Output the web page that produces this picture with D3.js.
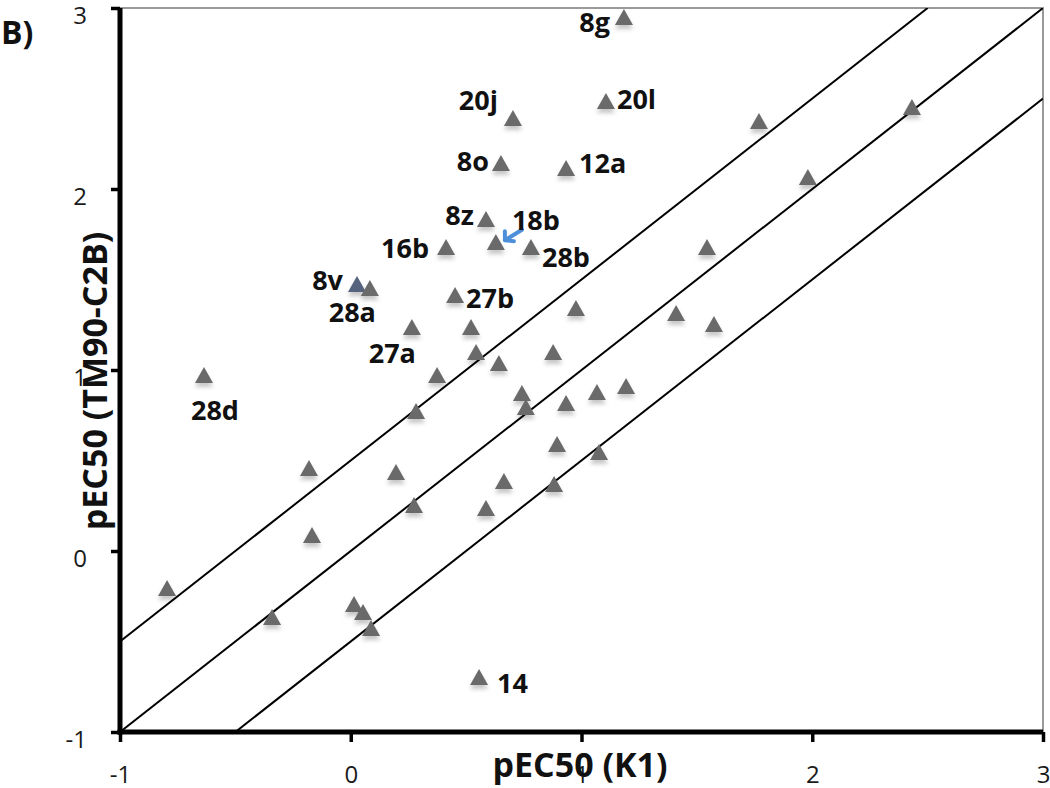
<!DOCTYPE html>
<html>
<head>
<meta charset="utf-8">
<script src="https://cdn.jsdelivr.net/npm/d3@7"></script>
<style>
    body { margin: 0; background: #fff; }
    svg { display: block; }
</style>
</head>
<body>
<div id="chart"></div>
<script>
// data: pEC50 on K1 (x) vs TM90-C2B (y)
const names = [
    "8g", "20l", "20j", "8o", "12a", "8z", "16b", "18b", "28b", "8v",
    "28a", "27b", "27a", "", "", "", "28d", "", "", "",
    "", "", "", "", "", "", "", "", "", "",
    "", "", "", "", "", "", "", "", "", "",
    "", "", "", "", "", "", "14"
];
const k1 = [
    1.184, 1.106, 0.703, 0.651, 0.933, 0.586, 0.413, 0.629, 0.781, 0.027,
    0.083, 0.452, 0.265, 0.521, 0.543, 0.374, -0.636, 0.283, -0.181, 0.196,
    0.274, -0.168, 0.586, 0.976, 0.642, 0.877, 0.742, 0.759, 0.933, 1.067,
    1.193, 1.410, 1.574, 1.544, 0.894, 1.076, 0.664, 0.881, 1.769, 2.432,
    1.981, -0.796, -0.341, 0.014, 0.053, 0.088, 0.556
];
const tm90 = [
    2.950, 2.486, 2.392, 2.144, 2.116, 1.834, 1.680, 1.707, 1.680, 1.475,
    1.453, 1.414, 1.238, 1.238, 1.099, 0.972, 0.972, 0.773, 0.459, 0.436,
    0.254, 0.088, 0.238, 1.343, 1.039, 1.099, 0.873, 0.796, 0.818, 0.878,
    0.912, 1.315, 1.254, 1.680, 0.591, 0.547, 0.387, 0.370, 2.376, 2.453,
    2.066, -0.204, -0.365, -0.293, -0.337, -0.425, -0.696
];
const refOffsets = [0.5, 0, -0.5];   // y = x + offset
const tickValues = [-1, 0, 1, 2, 3];
// the little blue arrow near 18b (from, to)
const arrowFrom = [0.742, 1.775];
const arrowTo = [0.668, 1.717];

const data = k1.map((v, i) => ({ x: v, y: tm90[i], name: names[i] }));

// label placement around the marker
const labelPos = {
    "8g": { anchor: "end", dx: -14, dy: 15 },
    "20l": { anchor: "start", dx: 11, dy: 8 },
    "20j": { anchor: "end", dx: -15, dy: -8 },
    "8o": { anchor: "end", dx: -12, dy: 8 },
    "12a": { anchor: "start", dx: 13, dy: 5 },
    "8z": { anchor: "end", dx: -12, dy: 6 },
    "18b": { anchor: "start", dx: 16, dy: -12 },
    "16b": { anchor: "end", dx: -17, dy: 11 },
    "28b": { anchor: "start", dx: 11, dy: 20 },
    "8v": { anchor: "end", dx: -14, dy: 6 },
    "28a": { anchor: "end", dx: 6, dy: 34 },
    "27b": { anchor: "start", dx: 11, dy: 13 },
    "27a": { anchor: "end", dx: 4, dy: 36 },
    "28d": { anchor: "start", dx: -13, dy: 45 },
    "14": { anchor: "start", dx: 18, dy: 16 },
};

const width = 1050;
const height = 788;
const marginTop = 8;
const marginRight = 7;
const marginBottom = 56;
const marginLeft = 120;

const x = d3.scaleLinear().domain([-1, 3]).range([marginLeft, width - marginRight]);
const y = d3.scaleLinear().domain([-1, 3]).range([height - marginBottom, marginTop]);

const svg = d3.select("#chart")
    .append("svg")
    .attr("width", width)
    .attr("height", height)
    .style("font-family", "'Open Sans', sans-serif");

const defs = svg.append("defs");
defs.append("clipPath")
    .attr("id", "plotClip")
    .append("rect")
    .attr("x", x(-1))
    .attr("y", y(3))
    .attr("width", x(3) - x(-1))
    .attr("height", y(-1) - y(3));

const shadow = defs.append("filter")
    .attr("id", "shadow")
    .attr("x", "-50%").attr("y", "-50%")
    .attr("width", "200%").attr("height", "200%");
shadow.append("feDropShadow")
    .attr("dx", 0)
    .attr("dy", 4)
    .attr("stdDeviation", 2)
    .attr("flood-color", "#000")
    .attr("flood-opacity", 0.22);

// top and right frame (grey)
svg.append("path")
    .attr("d", `M${x(-1)},${y(3)}H${x(3)}V${y(-1)}`)
    .attr("fill", "none")
    .attr("stroke", "#9a9a9a")
    .attr("stroke-width", 2);

// reference lines
svg.append("g")
    .attr("clip-path", "url(#plotClip)")
    .selectAll("line")
    .data(refOffsets)
    .join("line")
    .attr("x1", (d) => x(Math.max(-1, -1 - d)))
    .attr("y1", (d) => y(Math.max(-1, -1 - d) + d))
    .attr("x2", (d) => x(Math.min(3, 3 - d)))
    .attr("y2", (d) => y(Math.min(3, 3 - d) + d))
    .attr("stroke", "#000")
    .attr("stroke-width", 2);

// axes
const fmt = (d) => String(d);

const gx = svg.append("g")
    .attr("transform", `translate(0,${y(-1)})`)
    .call(d3.axisBottom(x).tickValues(tickValues).tickFormat(fmt).tickSize(10).tickSizeOuter(0).tickPadding(24));
const gy = svg.append("g")
    .attr("transform", `translate(${x(-1)},0)`)
    .call(d3.axisLeft(y).tickValues(tickValues).tickFormat(fmt).tickSize(9).tickSizeOuter(0).tickPadding(24));

for (const g of [gx, gy]) {
    g.attr("font-size", 24).attr("font-family", "'Open Sans', sans-serif");
    g.select(".domain").attr("stroke", "#000").attr("stroke-width", 5);
    g.selectAll(".tick line").attr("stroke", "#000").attr("stroke-width", 3.5);
    g.selectAll(".tick text")
        .attr("fill", "#1a1a1a")
        .style("font-size", "24px");
}
gy.selectAll(".tick text").attr("dy", "0.66em");
gx.select(".domain").attr("d", `M${x(-1) - 2.5},0H${x(3)}`);
gy.select(".domain").attr("d", `M0,${y(3)}V${y(-1) + 2.5}`);

// markers
const tri = (w, h) => `M0,${-h / 2}L${w / 2},${h / 2}L${-w / 2},${h / 2}Z`;

svg.append("g")
    .selectAll("path")
    .data(data)
    .join("path")
    .attr("transform", (d) => `translate(${x(d.x)},${y(d.y)})`)
    .attr("d", tri(18, 16))
    .attr("fill", (d) => (d.name === "8v" ? "#56647e" : "#6a6a6a"))
    .attr("filter", "url(#shadow)");

// blue arrow
svg.append("path")
    .attr("d", () => {
        const x0 = x(arrowFrom[0]), y0 = y(arrowFrom[1]);
        const x1 = x(arrowTo[0]), y1 = y(arrowTo[1]);
        return `M${x0},${y0}L${x1},${y1}M${x1},${y1}l0,-9M${x1},${y1}l9,1`;
    })
    .attr("fill", "none")
    .attr("stroke", "#4d8fd8")
    .attr("stroke-width", 4)
    .attr("stroke-linecap", "round");

// point labels
svg.append("g")
    .selectAll("text")
    .data(data.filter((d) => d.name !== ""))
    .join("text")
    .attr("x", (d) => x(d.x) + labelPos[d.name].dx)
    .attr("y", (d) => y(d.y) + labelPos[d.name].dy)
    .attr("text-anchor", (d) => labelPos[d.name].anchor)
    .attr("font-size", 27)
    .attr("font-weight", "bold")
    .attr("fill", "#111")
    .text((d) => d.name);

// axis titles
svg.append("text")
    .attr("x", 580)
    .attr("y", 777)
    .attr("text-anchor", "middle")
    .attr("font-size", 34)
    .attr("font-weight", "bold")
    .attr("fill", "#111")
    .text("pEC50 (K1)");

svg.append("text")
    .attr("transform", `translate(107,381) rotate(-90)`)
    .attr("text-anchor", "middle")
    .attr("font-size", 34)
    .attr("font-weight", "bold")
    .attr("fill", "#111")
    .text("pEC50 (TM90-C2B)");

// panel letter
svg.append("text")
    .attr("x", 1)
    .attr("y", 44)
    .attr("font-size", 32)
    .attr("font-weight", "bold")
    .attr("fill", "#111")
    .text("B)");
</script>
</body>
</html>
